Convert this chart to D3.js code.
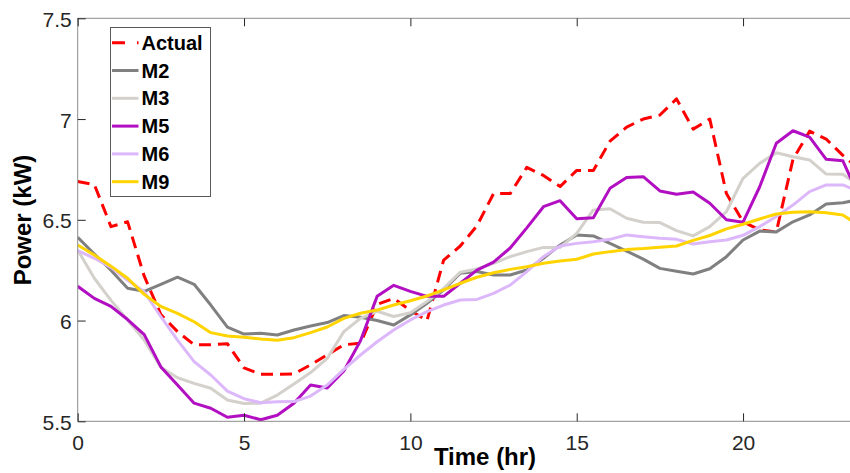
<!DOCTYPE html>
<html>
<head>
<meta charset="utf-8">
<script src="https://cdn.jsdelivr.net/npm/d3@7"></script>
<style>
  html, body { margin: 0; padding: 0; background: #fff; }
  svg { display: block; }
  text { font-family: "Liberation Sans", Arial, sans-serif; }
</style>
</head>
<body>
<div id="chart"></div>
<script>
// ---- data (half-hour samples) ----
const hours = [0,0.5,1,1.5,2,2.5,3,3.5,4,4.5,5,5.5,6,6.5,7,7.5,8,8.5,9,9.5,10,10.5,11,11.5,
               12,12.5,13,13.5,14,14.5,15,15.5,16,16.5,17,17.5,18,18.5,19,19.5,20,20.5,21,21.5,22,22.5,23,23.5];

const actual = [6.69,6.675,6.466,6.49,6.22,6.03,5.945,5.88,5.88,5.885,5.765,5.733,5.733,5.735,5.78,5.83,
                5.88,5.887,6.08,6.11,6.05,6.0,6.3,6.37,6.47,6.63,6.63,6.76,6.72,6.665,6.745,6.745,
                6.89,6.96,7.0,7.02,7.1,6.95,7.0,6.63,6.49,6.45,6.44,6.8,6.94,6.90,6.82,6.75];
const m2 = [6.413,6.33,6.25,6.16,6.145,6.18,6.215,6.18,6.077,5.967,5.933,5.937,5.928,5.953,5.973,5.99,
            6.025,6.016,6.0,5.978,6.028,6.086,6.152,6.235,6.243,6.226,6.226,6.251,6.309,6.375,6.425,6.42,
            6.383,6.345,6.305,6.259,6.245,6.231,6.257,6.317,6.40,6.444,6.44,6.49,6.524,6.578,6.585,6.60];
const m3 = [6.35,6.21,6.10,6.003,5.903,5.768,5.716,5.688,5.664,5.606,5.588,5.59,5.63,5.685,5.742,5.812,
            5.945,6.011,6.046,6.02,6.039,6.094,6.16,6.24,6.256,6.284,6.317,6.342,6.363,6.363,6.433,6.549,
            6.555,6.508,6.488,6.486,6.446,6.42,6.466,6.54,6.706,6.78,6.833,6.813,6.797,6.727,6.726,6.67];
const m5 = [6.17,6.11,6.07,6.005,5.93,5.77,5.68,5.59,5.565,5.52,5.53,5.508,5.53,5.59,5.68,5.665,
            5.75,5.90,6.12,6.175,6.145,6.12,6.12,6.185,6.25,6.29,6.36,6.46,6.565,6.595,6.505,6.51,
            6.656,6.71,6.714,6.643,6.627,6.638,6.582,6.50,6.488,6.664,6.88,6.942,6.91,6.80,6.793,6.61];
const m6 = [6.347,6.309,6.264,6.2,6.143,6.019,5.903,5.796,5.73,5.65,5.612,5.592,5.597,5.598,5.625,5.68,
            5.758,5.829,5.895,5.953,6.003,6.044,6.077,6.102,6.105,6.135,6.176,6.243,6.317,6.37,6.383,6.391,
            6.403,6.425,6.416,6.408,6.403,6.38,6.391,6.40,6.423,6.466,6.516,6.573,6.64,6.673,6.673,6.64];
const m9 = [6.375,6.325,6.27,6.21,6.13,6.07,6.036,5.994,5.94,5.923,5.917,5.908,5.902,5.915,5.94,5.968,
            6.011,6.036,6.052,6.077,6.098,6.122,6.152,6.185,6.215,6.237,6.254,6.267,6.284,6.295,6.304,6.33,
            6.342,6.352,6.357,6.364,6.37,6.398,6.422,6.455,6.478,6.504,6.529,6.537,6.54,6.535,6.524,6.47];

const seriesNames = ["Actual","M2","M3","M5","M6","M9"];
const seriesColors = ["#ff0000","#808080","#d4d1cc","#b10fc1","#dcb8fb","#ffd400"];
const xTicks = [0,5,10,15,20];
const yTicks = [5.5,6,6.5,7,7.5];
const yTickLabels = ["5.5","6","6.5","7","7.5"];
const xLabel = "Time (hr)";
const yLabel = "Power (kW)";

const seriesValues = [actual, m2, m3, m5, m6, m9];

(function () {
  // ---- layout ----
  const W = 850, H = 473;
  const pLeft = 77.7, pRight = 859.5, pTop = 18.3, pBottom = 421.3;

  const x = d3.scaleLinear().domain([0, 23.5]).range([pLeft, pRight]);
  const y = d3.scaleLinear().domain([5.5, 7.5]).range([pBottom, pTop]);

  const svg = d3.select("#chart").append("svg")
    .attr("width", W).attr("height", H);

  svg.append("defs").append("clipPath").attr("id", "plotclip")
    .append("rect").attr("x", pLeft).attr("y", pTop)
    .attr("width", pRight - pLeft).attr("height", pBottom - pTop);

  // ---- lines ----
  const line = d3.line().x((d, i) => x(hours[i])).y(d => y(d));
  const g = svg.append("g").attr("clip-path", "url(#plotclip)");
  seriesValues.forEach((vals, k) => {
    g.append("path")
      .attr("d", line(vals))
      .attr("fill", "none")
      .attr("stroke", seriesColors[k])
      .attr("stroke-width", 3)
      .attr("stroke-linejoin", "round")
      .attr("stroke-dasharray", k === 0 ? "12,7" : null);
  });

  // ---- axes box ----
  const axisColor = "#8c8c8c";
  const tickColor = "#262626";
  const box = svg.append("g");
  box.append("line").attr("x1", pLeft).attr("x2", pRight).attr("y1", pBottom).attr("y2", pBottom)
    .attr("stroke", axisColor).attr("stroke-width", 1);
  box.append("line").attr("x1", pLeft).attr("x2", pRight).attr("y1", pTop).attr("y2", pTop)
    .attr("stroke", axisColor).attr("stroke-width", 1);
  box.append("line").attr("x1", pLeft).attr("x2", pLeft).attr("y1", pTop).attr("y2", pBottom)
    .attr("stroke", axisColor).attr("stroke-width", 1);
  box.append("line").attr("x1", pRight).attr("x2", pRight).attr("y1", pTop).attr("y2", pBottom)
    .attr("stroke", axisColor).attr("stroke-width", 1);

  // bottom axis (ticks inward)
  const xAxis = d3.axisBottom(x).tickValues(xTicks).tickSize(-8).tickPadding(0).tickFormat(d3.format("d"));
  const gx = svg.append("g").attr("transform", `translate(0,${pBottom})`).call(xAxis);
  gx.select(".domain").remove();
  gx.selectAll(".tick line").attr("stroke", tickColor);
  gx.selectAll(".tick text").attr("dy", null).attr("y", 28.7)
    .attr("font-size", 21).attr("fill", tickColor)
    .attr("font-family", "'Liberation Sans', Arial, sans-serif");

  // top axis ticks
  const xAxisTop = d3.axisTop(x).tickValues(xTicks).tickSize(-8).tickFormat("");
  const gxt = svg.append("g").attr("transform", `translate(0,${pTop})`).call(xAxisTop);
  gxt.select(".domain").remove();
  gxt.selectAll(".tick line").attr("stroke", tickColor);

  // left axis
  const yAxis = d3.axisLeft(y).tickValues(yTicks).tickSize(-8).tickPadding(0)
    .tickFormat((d, i) => yTickLabels[i]);
  const gy = svg.append("g").attr("transform", `translate(${pLeft},0)`).call(yAxis);
  gy.select(".domain").remove();
  gy.selectAll(".tick line").attr("stroke", tickColor);
  gy.selectAll(".tick text").attr("dy", null).attr("x", -6).attr("y", 8)
    .attr("font-size", 21).attr("fill", tickColor).attr("text-anchor", "end")
    .attr("font-family", "'Liberation Sans', Arial, sans-serif");

  // right axis ticks
  const yAxisRight = d3.axisRight(y).tickValues(yTicks).tickSize(-8).tickFormat("");
  const gyr = svg.append("g").attr("transform", `translate(${pRight},0)`).call(yAxisRight);
  gyr.select(".domain").remove();
  gyr.selectAll(".tick line").attr("stroke", tickColor);

  // ---- axis labels ----
  svg.append("text").attr("x", 485).attr("y", 465)
    .attr("text-anchor", "middle").attr("font-size", 24).attr("font-weight", "bold")
    .attr("fill", "#000").text(xLabel);
  svg.append("text").attr("transform", "translate(31,220) rotate(-90)")
    .attr("text-anchor", "middle").attr("font-size", 24).attr("font-weight", "bold")
    .attr("fill", "#000").text(yLabel);

  // ---- legend ----
  const lg = svg.append("g");
  lg.append("rect").attr("x", 110.5).attr("y", 27.5).attr("width", 100).attr("height", 169)
    .attr("fill", "#fff").attr("stroke", "#5a5a5a").attr("stroke-width", 1);
  seriesNames.forEach((name, k) => {
    const cy = 42.7 + k * 27.8;
    lg.append("line").attr("x1", 112).attr("x2", 138.5).attr("y1", cy).attr("y2", cy)
      .attr("stroke", seriesColors[k]).attr("stroke-width", 3)
      .attr("stroke-dasharray", k === 0 ? "13,12" : null);
    lg.append("text").attr("x", 141.5).attr("y", cy + 7)
      .attr("font-size", 20).attr("font-weight", "bold").attr("fill", "#000").text(name);
  });
})();
</script>
</body>
</html>
